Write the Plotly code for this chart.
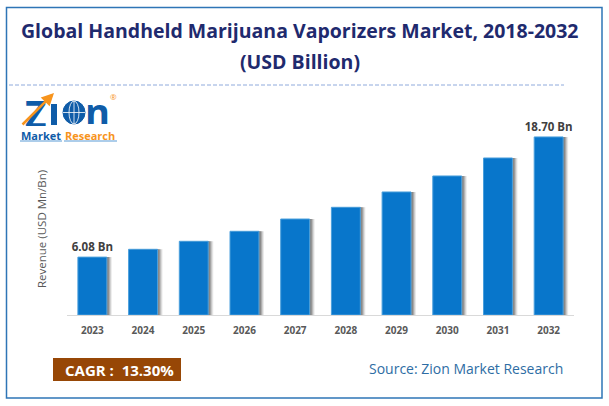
import plotly.graph_objects as go

years = ['2023', '2024', '2025', '2026', '2027', '2028', '2029', '2030', '2031', '2032']
revenue = [6.08, 6.90, 7.74, 8.79, 10.08, 11.31, 12.92, 14.60, 16.49, 18.70]
bar_labels = ['6.08 Bn', '', '', '', '', '', '', '', '', '18.70 Bn']

FONT = 'Open Sans'
W, H = 609, 406
LEFT, RIGHT, TOP, BOTTOM = 67, 574, 100, 315
BLUE = '#0F5CA8'
ORANGE = '#F7941D'


# paper coords follow the plot area, so convert from page pixels
def px(x):
    return (x - LEFT) / (RIGHT - LEFT)


def py(y):
    return (BOTTOM - y) / (BOTTOM - TOP)


fig = go.Figure()

# soft shadow on the right of each bar
for off, alpha in [(0.10, 0.10), (0.08, 0.16), (0.06, 0.24), (0.04, 0.30)]:
    fig.add_trace(go.Bar(x=years, y=revenue, width=0.57, offset=-0.285 + off,
                         marker=dict(color=f'rgba(60,60,60,{alpha})', line_width=0),
                         hoverinfo='skip', showlegend=False))

fig.add_trace(go.Bar(x=years, y=revenue, width=0.57, offset=-0.285,
                     marker=dict(color='#0876CB', line=dict(color='#4A9FDC', width=1)),
                     text=bar_labels, textposition='outside', cliponaxis=False,
                     constraintext='none',
                     textfont=dict(family=FONT, size=11.5, color='#404040', weight=700),
                     showlegend=False))

fig.update_layout(
    width=W, height=H, barmode='overlay', showlegend=False,
    paper_bgcolor='white', plot_bgcolor='white',
    margin=dict(l=LEFT, r=W - RIGHT, t=TOP, b=H - BOTTOM, autoexpand=False),
    font=dict(family=FONT, color='#595959'),
)
fig.update_xaxes(type='category', showgrid=False, ticks='', showline=True,
                 linecolor='#D9D9D9', linewidth=1, ticklabelstandoff=6,
                 tickfont=dict(size=10, color='#595959', weight=700), fixedrange=True)
fig.update_yaxes(range=[0, 22.58], showgrid=False, showticklabels=False, ticks='',
                 zeroline=False, showline=False, fixedrange=True)


def line(x0, y0, x1, y1, color, width=1, dash='solid'):
    fig.add_shape(type='line', xref='paper', yref='paper', x0=px(x0), x1=px(x1),
                  y0=py(y0), y1=py(y1), line=dict(color=color, width=width, dash=dash))


def note(x, y, text, size, color, weight=400, xanchor='center', **kw):
    fig.add_annotation(xref='paper', yref='paper', x=px(x), y=py(y), text=text, showarrow=False,
                       xanchor=xanchor, yanchor='middle',
                       font=dict(family=FONT, size=size, color=color, weight=weight), **kw)


# frame and divider
fig.add_shape(type='rect', xref='paper', yref='paper', x0=px(6.5), x1=px(602),
              y0=py(398), y1=py(7.5), line=dict(color='#2E75B6', width=1.5))
line(9, 85, 564, 85, '#8FAADC', 1, '4px,2px')

note(300, 31, 'Global Handheld Marijuana Vaporizers Market, 2018-2032', 19.5, '#1F2A6E', 700)
note(300, 61, '(USD Billion)', 19.5, '#1F2A6E', 700)
note(41, 229, 'Revenue (USD Mn/Bn)', 11.5, '#595959', textangle=-90)
note(367, 368, 'Source: Zion Market Research', 14, '#2E6DA4', xanchor='left')

fig.add_shape(type='rect', xref='paper', yref='paper', x0=px(53), x1=px(181),
              y0=py(381), y1=py(358), fillcolor='#974706', line_width=0)
note(119.5, 369.5, 'CAGR :  13.30%', 15, 'white', 700)

# logo
note(35, 112.5, 'Z', 37, BLUE, 700, height=26)
note(97, 111, 'n', 38, BLUE, 700, height=26)
line(54, 104, 54, 125, BLUE, 6)
fig.add_shape(type='circle', xref='paper', yref='paper', x0=px(63), x1=px(85),
              y0=py(124), y1=py(101), fillcolor=BLUE, line=dict(color=BLUE, width=1))
fig.add_shape(type='circle', xref='paper', yref='paper', x0=px(69), x1=px(79),
              y0=py(124), y1=py(101), line=dict(color='white', width=0.8))
line(63, 112.5, 85, 112.5, 'white', 0.8)
line(74, 101, 74, 124, 'white', 0.8)
fig.add_annotation(xref='paper', yref='paper', x=px(54), y=py(93), ax=-33, ay=33,
                   text='', showarrow=True, arrowhead=2,
                   arrowsize=1, arrowwidth=2.5, arrowcolor=ORANGE)
note(113, 97, '®', 8, ORANGE)
note(41, 135, 'Market', 11, BLUE, 700)
note(90, 135, 'Research', 11, ORANGE, 700)
line(20, 141, 62, 141, '#5B9BD5', 1)
line(64, 141, 117, 141, '#5B9BD5', 1)

fig.write_html('out.html', config=dict(displayModeBar=False),
               post_script="document.body.style.margin = '0';")
